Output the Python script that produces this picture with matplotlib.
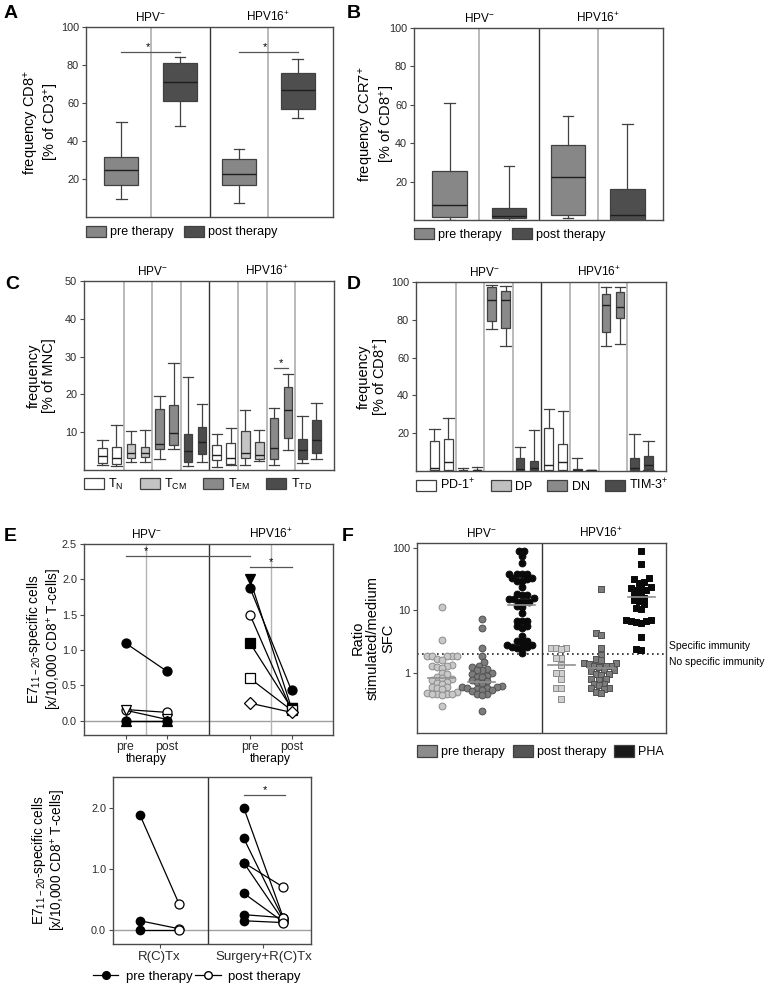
import numpy as np
import matplotlib
matplotlib.use('Agg')
import matplotlib.pyplot as plt
from matplotlib.patches import Patch
from matplotlib.lines import Line2D
from matplotlib.transforms import blended_transform_factory

plt.rcParams['font.family'] = ['Liberation Sans', 'DejaVu Sans']
plt.rcParams['mathtext.fontset'] = 'custom'
plt.rcParams['mathtext.rm'] = 'Liberation Sans'
plt.rcParams['mathtext.it'] = 'Liberation Sans:italic'
plt.rcParams['mathtext.default'] = 'regular'

W, H = 770, 991
SPINE = '#4a4a4a'
EDGE = '#404040'

groups = ['HPV$^{-}$', 'HPV16$^{+}$']

# --- A: frequency CD8+ (% of CD3+); box = [whislo, q1, med, q3, whishi], per group
a_pre = [[9.5, 17.0, 24.5, 31.5, 50.0], [7.5, 17.0, 22.5, 30.5, 36.0]]
a_post = [[48.0, 61.0, 71.0, 81.0, 84.0], [52.0, 57.0, 67.0, 76.0, 83.0]]

# --- B: frequency CCR7+ (% of CD8+)
b_pre = [[0.0, 1.5, 8.0, 25.5, 61.0], [1.0, 2.5, 22.5, 39.0, 54.0]]
b_post = [[0.0, 1.0, 2.0, 6.0, 28.0], [0.0, 0.0, 2.5, 16.0, 50.0]]

# --- C: frequency (% of MNC), subsets x (pre, post)
c_subsets = ['T$_{N}$', 'T$_{CM}$', 'T$_{EM}$', 'T$_{TD}$']
c_hpvneg = [
    [[1.2, 1.8, 3.8, 5.8, 8.0], [1.0, 1.5, 3.3, 6.2, 11.8]],
    [[2.2, 3.2, 4.5, 7.0, 10.2], [2.2, 3.4, 4.5, 6.2, 10.5]],
    [[3.0, 5.5, 6.8, 16.2, 19.6], [5.5, 6.7, 9.8, 17.2, 28.2]],
    [[1.0, 2.0, 5.0, 9.5, 24.7], [2.2, 4.2, 7.4, 11.4, 17.4]],
]
c_hpv16 = [
    [[0.8, 2.6, 4.0, 6.6, 9.6], [1.2, 1.6, 3.2, 7.2, 11.0]],
    [[1.2, 3.3, 4.5, 10.2, 15.8], [2.5, 2.8, 4.0, 7.3, 10.6]],
    [[1.4, 2.8, 5.8, 13.7, 16.5], [5.4, 8.5, 15.8, 22.0, 25.5]],
    [[1.8, 3.0, 5.4, 8.2, 14.4], [3.0, 4.5, 8.0, 13.2, 17.6]],
]
c_colors = ['#ffffff', '#c4c4c4', '#8a8a8a', '#4c4c4c']

# --- D: frequency (% of CD8+)
d_subsets = ['PD-1$^{+}$', 'DP', 'DN', 'TIM-3$^{+}$']
d_hpvneg = [
    [[0.0, 0.3, 1.6, 16.0, 22.4], [0.0, 0.5, 4.6, 16.9, 28.2]],
    [[0.0, 0.0, 0.2, 0.5, 1.5], [0.0, 0.0, 0.3, 0.5, 2.0]],
    [[75.0, 79.3, 90.7, 97.4, 98.5], [66.3, 75.4, 90.6, 95.3, 98.0]],
    [[0.0, 0.3, 1.0, 6.7, 12.7], [0.0, 0.3, 1.5, 5.3, 21.5]],
]
d_hpv16 = [
    [[0.0, 0.5, 3.2, 22.6, 32.8], [0.0, 0.5, 4.6, 14.1, 32.0]],
    [[0.0, 0.0, 0.5, 1.0, 6.9], [0.0, 0.2, 0.3, 0.4, 0.5]],
    [[65.9, 73.5, 87.6, 93.4, 97.6], [67.3, 81.0, 86.7, 94.6, 97.6]],
    [[0.0, 0.3, 1.5, 6.7, 19.4], [0.3, 1.0, 3.0, 7.9, 16.0]],
]
d_colors = ['#ffffff', '#c0c0c0', '#8a8a8a', '#4c4c4c']

# --- E (top): E7 11-20 specific cells per patient, pre -> post
e_neg_pre = [1.10, 0.16, 0.15, 0.0, 0.0]
e_neg_post = [0.70, 0.12, 0.02, 0.0, 0.0]
e_neg_marker = ['o', 'o', 'v', '^', 'o']
e_neg_filled = [True, False, False, True, True]
e_pos_pre = [2.00, 1.88, 1.50, 1.10, 0.60, 0.25]
e_pos_post = [0.18, 0.43, 0.15, 0.18, 0.15, 0.12]
e_pos_marker = ['v', 'o', 'o', 's', 's', 'D']
e_pos_filled = [True, True, False, True, False, False]

# --- E (bottom): by treatment
eb_groups = ['R(C)Tx', 'Surgery+R(C)Tx']
eb_rctx_pre = [1.88, 0.15, 0.0]
eb_rctx_post = [0.43, 0.02, 0.0]
eb_surg_pre = [2.00, 1.50, 1.10, 1.10, 0.60, 0.25, 0.15]
eb_surg_post = [0.20, 0.18, 0.70, 0.15, 0.13, 0.20, 0.12]

# --- F: ratio stimulated/medium SFC
f_neg_pre = [11.5, 3.4, 1.9, 1.9, 1.9, 1.9, 1.85, 1.7, 1.6, 1.35, 1.3, 1.3, 1.25,
             1.2, 1.0, 0.95, 0.85, 0.82, 0.8, 0.78, 0.72, 0.7, 0.68, 0.6, 0.6,
             0.58, 0.55, 0.5, 0.48, 0.46, 0.46, 0.46, 0.46, 0.45, 0.3]
f_neg_post = [7.2, 5.2, 2.5, 1.9, 1.5, 1.3, 1.25, 1.15, 1.1, 1.1, 1.0, 0.95, 0.9,
              0.88, 0.85, 0.78, 0.75, 0.72, 0.7, 0.62, 0.6, 0.6, 0.58, 0.57, 0.55,
              0.54, 0.53, 0.52, 0.47, 0.46, 0.45, 0.25]
f_neg_pha = [88, 88, 74, 57, 39, 39, 38, 38, 33, 33, 32, 30, 30, 24, 18.4, 18, 18,
             15.7, 15.5, 15.5, 13.8, 13.5, 13.5, 11.8, 11.5, 9.2, 6.9, 6.9, 6.8,
             5.65, 5.6, 5.2, 3.9, 3.2, 3.2, 3.1, 2.8, 2.8, 2.6, 2.6, 2.55, 2.5, 2.07]
f_pos_pre = [2.5, 2.5, 2.48, 2.45, 1.72, 1.72, 1.34, 1.0, 1.0, 0.8, 0.57, 0.57, 0.39]
f_pos_post = [22, 4.3, 4.1, 2.48, 1.94, 1.65, 1.62, 1.45, 1.45, 1.42, 1.3, 1.3, 1.28,
              1.25, 1.1, 1.1, 1.08, 0.95, 0.95, 0.93, 0.8, 0.8, 0.78, 0.67, 0.67,
              0.65, 0.57, 0.57, 0.56, 0.49, 0.48]
f_pos_pha = [88, 55, 33, 32, 29, 28, 24, 24, 23, 21, 21, 20, 17.5, 17, 15.7, 14.5,
             14, 12.5, 10.8, 10.5, 7.0, 7.0, 6.9, 6.8, 6.5, 6.4, 3.8, 2.4, 2.35]
f_medians = [0.83, 0.73, 12.3, 1.34, 1.22, 16.4]
f_threshold = 2.0

fig = plt.figure(figsize=(W / 100, H / 100), dpi=100)


def add_ax(l, t, r, b):
    return fig.add_axes([l / W, 1 - b / H, (r - l) / W, (b - t) / H])


def style(ax, xticks=False):
    for s in ax.spines.values():
        s.set_color(SPINE)
        s.set_linewidth(1.0)
    ax.tick_params(axis='both', labelsize=7.8, length=3, width=0.8, color=SPINE,
                   pad=2, labelcolor='#2a2a2a')
    if not xticks:
        ax.set_xticks([])


def stat(v):
    return dict(whislo=v[0], q1=v[1], med=v[2], q3=v[3], whishi=v[4], fliers=[])


def boxes(ax, stats, positions, colors, width, capw):
    bp = ax.bxp([stat(s) for s in stats], positions=positions, widths=width,
                capwidths=capw, patch_artist=True, showfliers=False,
                manage_ticks=False,
                boxprops=dict(edgecolor=EDGE, linewidth=0.9),
                medianprops=dict(color='#1e1e1e', linewidth=1.0),
                whiskerprops=dict(color=EDGE, linewidth=0.9),
                capprops=dict(color=EDGE, linewidth=0.9))
    for patch, c in zip(bp['boxes'], colors):
        patch.set_facecolor(c)
    return bp


def dividers(ax, gray, dark):
    for x in gray:
        ax.axvline(x, color='#b4b4b4', lw=1.3, zorder=1)
    for x in dark:
        ax.axvline(x, color='#333333', lw=1.0, zorder=1)


def titles(ax, xs, size=8.5):
    tr = blended_transform_factory(ax.transData, ax.transAxes)
    for x, g in zip(xs, groups):
        ax.text(x, 1.015, g, transform=tr, ha='center', va='bottom', fontsize=size)


def patch_legend(ax, labels, colors, anchor, colsp):
    handles = [Patch(facecolor=c, edgecolor=EDGE, linewidth=0.9) for c in colors]
    ax.legend(handles, labels, loc='upper left', bbox_to_anchor=anchor, ncol=len(labels),
              frameon=False, fontsize=9, handlelength=1.6, handleheight=1.0,
              handletextpad=0.35, columnspacing=colsp, borderpad=0, borderaxespad=0)


def sig(ax, x0, x1, y, star_x=None):
    ax.plot([x0, x1], [y, y], color='#555555', lw=0.9)
    sx = (x0 + x1) / 2 if star_x is None else star_x
    ax.text(sx, y, '*', ha='center', va='bottom', fontsize=8)


def letter(px, py, s):
    fig.text(px / W, 1 - py / H, s, fontsize=14, fontweight='bold', va='top', ha='left')


PRE_C, POST_C = '#878787', '#4e4e4e'

# ---------------- A ----------------
ax = add_ax(86, 27, 333, 217)
style(ax)
boxes(ax, [a_pre[0], a_post[0], a_pre[1], a_post[1]], [0, 1, 2, 3],
      [PRE_C, POST_C, PRE_C, POST_C], 0.58, 0.18)
ax.set_xlim(-0.6, 3.6)
ax.set_ylim(0, 100)
ax.set_yticks([20, 40, 60, 80, 100])
dividers(ax, [0.5, 2.5], [1.5])
titles(ax, [0.5, 2.5])
sig(ax, 0, 1, 87, 0.45)
sig(ax, 2, 3, 87, 2.45)
ax.set_ylabel('frequency CD8$^{+}$\n[% of CD3$^{+}$]', fontsize=10.5, linespacing=1.1)
ax.yaxis.set_label_coords(-0.10, 0.5)
patch_legend(ax, ['pre therapy', 'post therapy'], [PRE_C, POST_C], (0.0, -0.045), 0.8)

# ---------------- B ----------------
ax = add_ax(414, 28, 663, 220)
style(ax)
boxes(ax, [b_pre[0], b_post[0], b_pre[1], b_post[1]], [0, 1, 2, 3],
      [PRE_C, POST_C, PRE_C, POST_C], 0.58, 0.18)
ax.set_xlim(-0.6, 3.6)
ax.set_ylim(0, 100)
ax.set_yticks([20, 40, 60, 80, 100])
dividers(ax, [0.5, 2.5], [1.5])
titles(ax, [0.5, 2.5])
ax.set_ylabel('frequency CCR7$^{+}$\n[% of CD8$^{+}$]', fontsize=10.5, linespacing=1.1)
ax.yaxis.set_label_coords(-0.07, 0.5)
patch_legend(ax, ['pre therapy', 'post therapy'], [PRE_C, POST_C], (0.0, -0.04), 0.8)


def subset_panel(ax, neg, pos, colors):
    stats, pos_x, cols = [], [], []
    for gi, grp in enumerate([neg, pos]):
        for si, pair in enumerate(grp):
            g = gi * 4 + si
            for k, s in enumerate(pair):
                stats.append(s)
                pos_x.append(g - 0.245 + k * 0.49)
                cols.append(colors[si])
    boxes(ax, stats, pos_x, cols, 0.3, 0.36)
    ax.set_xlim(-0.89, 7.86)
    dividers(ax, [0.5, 1.5, 2.5, 4.5, 5.5, 6.5], [3.5])
    titles(ax, [1.5, 5.5])


# ---------------- C ----------------
ax = add_ax(84, 281, 334, 470)
style(ax)
subset_panel(ax, c_hpvneg, c_hpv16, c_colors)
ax.set_ylim(0, 50)
ax.set_yticks([10, 20, 30, 40, 50])
sig(ax, 5.755, 6.245, 27)
ax.set_ylabel('frequency\n[% of MNC]', fontsize=10.5, linespacing=1.1)
ax.yaxis.set_label_coords(-0.114, 0.5)
patch_legend(ax, c_subsets, c_colors, (0.0, -0.035), 1.3)

# ---------------- D ----------------
ax = add_ax(416, 282, 666, 471)
style(ax)
subset_panel(ax, d_hpvneg, d_hpv16, d_colors)
ax.set_ylim(0, 100)
ax.set_yticks([20, 40, 60, 80, 100])
ax.set_ylabel('frequency\n[% of CD8$^{+}$]', fontsize=10.5, linespacing=1.1)
ax.yaxis.set_label_coords(-0.098, 0.5)
patch_legend(ax, d_subsets, d_colors, (0.0, -0.035), 1.2)

# ---------------- E top ----------------
E_LABEL = 'E7$_{11-20}$-specific cells\n[x/10,000 CD8$^{+}$ T-cells]'
ax = add_ax(84, 544, 333, 735)
style(ax, xticks=True)
ax.set_xlim(0, 6)
ax.set_ylim(-0.2, 2.5)
ax.set_yticks([0.0, 0.5, 1.0, 1.5, 2.0, 2.5])
ax.set_yticklabels(['0.0', '0.5', '1.0', '1.5', '2.0', '2.5'])
ax.axhline(0, color='#a0a0a0', lw=1.0, zorder=1)
ax.axvline(1.5, color='#b4b4b4', lw=1.0, zorder=1)
ax.axvline(4.5, color='#b4b4b4', lw=1.0, zorder=1)
ax.axvline(3.0, color='#333333', lw=1.0, zorder=1)
for x0, pre, post, mk, fl in [(1, e_neg_pre, e_neg_post, e_neg_marker, e_neg_filled),
                              (4, e_pos_pre, e_pos_post, e_pos_marker, e_pos_filled)]:
    for a, b, m, f in zip(pre, post, mk, fl):
        ax.plot([x0, x0 + 1], [a, b], color='black', lw=0.9, marker=m, markersize=6.5,
                markerfacecolor='black' if f else 'white', markeredgecolor='black',
                markeredgewidth=0.9, zorder=3)
ax.set_xticks([1, 2, 4, 5])
ax.set_xticklabels(['pre', 'post', 'pre', 'post'], fontsize=8.8)
ax.tick_params(axis='x', length=3, pad=1)
tr = blended_transform_factory(ax.transData, ax.transAxes)
for x in [1.5, 4.5]:
    ax.text(x, -0.092, 'therapy', transform=tr, ha='center', va='top', fontsize=8.8)
titles(ax, [1.5, 4.5])
ax.plot([1, 4], [2.33, 2.33], color='#555555', lw=0.9)
ax.text(1.5, 2.33, '*', ha='center', va='bottom', fontsize=8)
sig(ax, 4, 5, 2.18)
ax.set_ylabel(E_LABEL, fontsize=9.8, linespacing=1.1)
ax.yaxis.set_label_coords(-0.082, 0.5)

# ---------------- E bottom ----------------
ax = add_ax(113, 777, 311, 944)
style(ax, xticks=True)
ax.set_xlim(0, 10)
ax.set_ylim(-0.23, 2.5)
ax.set_yticks([0.0, 1.0, 2.0])
ax.set_yticklabels(['0.0', '1.0', '2.0'])
ax.axhline(0, color='#a0a0a0', lw=1.0, zorder=1)
ax.axvline(4.8, color='#333333', lw=1.0, zorder=1)
for x0, x1, pre, post in [(1.36, 3.33, eb_rctx_pre, eb_rctx_post),
                          (6.6, 8.6, eb_surg_pre, eb_surg_post)]:
    for a, b in zip(pre, post):
        ax.plot([x0, x1], [a, b], color='black', lw=0.9, zorder=2)
    ax.plot([x0] * len(pre), pre, 'o', color='black', markersize=6, zorder=3)
    ax.plot([x1] * len(post), post, 'o', markerfacecolor='white', markeredgecolor='black',
            markeredgewidth=0.9, markersize=6.5, zorder=3)
ax.set_xticks([2.35, 7.6])
ax.set_xticklabels(eb_groups, fontsize=9.5)
ax.tick_params(axis='x', length=3, pad=2)
sig(ax, 6.6, 8.7, 2.21)
ax.set_ylabel(E_LABEL, fontsize=9.8, linespacing=1.1)
ax.yaxis.set_label_coords(-0.225, 0.5)
eh = [Line2D([], [], color='black', lw=0.9, marker='o', markersize=5.5,
             markerfacecolor='black', markeredgecolor='black'),
      Line2D([], [], color='black', lw=0.9, marker='o', markersize=5.5,
             markerfacecolor='white', markeredgecolor='black')]
ax.legend(eh, ['pre therapy', 'post therapy'], loc='upper left', bbox_to_anchor=(-0.1, -0.16),
          ncol=2, frameon=False, fontsize=9.5, handlelength=1.9, handletextpad=0.6,
          columnspacing=0.2, borderpad=0, borderaxespad=0)

# ---------------- F ----------------
ax = add_ax(417, 543, 666, 733)
style(ax)
ax.set_yscale('log')
ax.set_xlim(-0.625, 5.625)
ax.set_ylim(0.11, 120)
ax.set_yticks([1, 10, 100])
ax.set_yticklabels(['1', '10', '100'])
ax.yaxis.set_minor_locator(matplotlib.ticker.NullLocator())
ax.axvline(2.5, color='#333333', lw=1.0, zorder=1)
ax.axhline(f_threshold, color='#222222', lw=1.2, ls=(0, (1, 2)), zorder=1)


def swarm(ax, center, vals, d_px):
    trans = ax.transData
    vals = np.asarray(vals, float)
    pts = trans.transform(np.column_stack([np.full(len(vals), center), vals]))
    ys = pts[:, 1]
    x0 = pts[0, 0]
    cands = [0.0]
    for k in range(1, 24):
        cands += [-k * d_px / 2, k * d_px / 2]
    placed = []
    offs = np.zeros(len(vals))
    for i in np.argsort(ys):
        for c in cands:
            if all((c - px) ** 2 + (ys[i] - py) ** 2 >= (0.97 * d_px) ** 2 for px, py in placed):
                offs[i] = c
                placed.append((c, ys[i]))
                break
    inv = trans.inverted()
    return inv.transform(np.column_stack([x0 + offs, ys]))[:, 0]


f_series = [(f_neg_pre, 'o', '#c8c8c8', '#8c8c8c'),
            (f_neg_post, 'o', '#7c7c7c', '#505050'),
            (f_neg_pha, 'o', '#0a0a0a', '#0a0a0a'),
            (f_pos_pre, 's', '#cfcfcf', '#8c8c8c'),
            (f_pos_post, 's', '#7c7c7c', '#505050'),
            (f_pos_pha, 's', '#0a0a0a', '#0a0a0a')]
for i, (vals, mk, fc, ec) in enumerate(f_series):
    xs = swarm(ax, i, vals, 5.0)
    ax.scatter(xs, vals, marker=mk, s=24 if mk == 'o' else 22, facecolor=fc,
               edgecolor=ec, linewidth=0.7, zorder=2)
    ax.plot([i - 0.34, i + 0.34], [f_medians[i], f_medians[i]], color='#909090',
            lw=1.2, zorder=3)
titles(ax, [1, 4])
ax.text(1.012, 0.458, 'Specific immunity', transform=ax.transAxes, fontsize=7.5,
        ha='left', va='center')
ax.text(1.012, 0.372, 'No specific immunity', transform=ax.transAxes, fontsize=7.5,
        ha='left', va='center')
ax.set_ylabel('Ratio\nstimulated/medium\nSFC', fontsize=10.5, linespacing=1.1)
ax.yaxis.set_label_coords(-0.088, 0.5)
patch_legend(ax, ['pre therapy', 'post therapy', 'PHA'], ['#8c8c8c', '#555555', '#1a1a1a'],
             (0.0, -0.065), 0.6)

letter(4, 5, 'A')
letter(347, 5, 'B')
letter(5, 276, 'C')
letter(347, 276, 'D')
letter(4, 528, 'E')
letter(342, 528, 'F')

fig.savefig('out.png', dpi=100)
